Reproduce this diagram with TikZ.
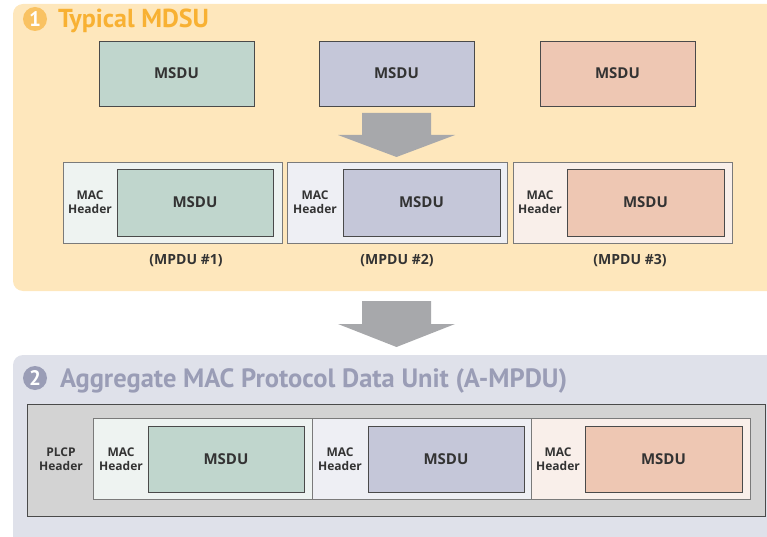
\documentclass[tikz,border=0pt]{standalone}
\usepackage{fontspec}
\setmainfont{PT Sans}
\newfontfamily\lblfont{Open Sans}
\usetikzlibrary{positioning}
\definecolor{panelA}{HTML}{FEE7BC}
\definecolor{panelB}{HTML}{DFE1EA}
\definecolor{titleA}{HTML}{F8B133}
\definecolor{circA}{HTML}{F9C262}
\definecolor{titleB}{HTML}{9A9DB6}
\definecolor{arrowgray}{HTML}{A7A8AB}
\definecolor{msdugreen}{HTML}{C0D6CD}
\definecolor{msdulav}{HTML}{C5C7D9}
\definecolor{msdupeach}{HTML}{EEC7B3}
\definecolor{lightgreen}{HTML}{EEF3F1}
\definecolor{lightlav}{HTML}{EEEFF4}
\definecolor{lightpeach}{HTML}{F9EFEA}
\definecolor{outergray}{HTML}{D3D3D3}
\definecolor{txt}{HTML}{333333}
\definecolor{darkline}{HTML}{4A4A4A}
\definecolor{midline}{HTML}{7A7A7A}
\begin{document}
\begin{tikzpicture}[x=1pt,y=-1pt,
  every node/.style={inner sep=0pt, outer sep=0pt, text=txt},
  msdubox/.style={draw=darkline, line width=0.9pt, font=\lblfont\fontsize{15}{15}\selectfont\bfseries},
  mpdubox/.style={draw=midline, line width=0.9pt},
  hdr/.style={align=center, font=\lblfont\fontsize{12}{14}\selectfont\bfseries},
  mpdulabel/.style={font=\lblfont\fontsize{14}{14}\selectfont\bfseries},
  blockarrow/.style={fill=arrowgray, draw=none},
  numcirc/.style={circle, minimum size=24pt, text=white, font=\fontsize{21}{21}\selectfont\bfseries}
]
\useasboundingbox (0,0) rectangle (767,537);
% panels
\fill[panelA, rounded corners=10pt] (13,4) rectangle (790,291);
\fill[panelB, rounded corners=10pt] (13,355) rectangle (790,560);
% titles
\node[numcirc, fill=circA] (c1) at (35,19) {1};
\node[anchor=base west, text=titleA, font=\fontsize{26}{26}\selectfont\bfseries] (t1) at (58,27.5) {Typical MDSU};
\node[numcirc, fill=titleB] (c2) at (35,378) {2};
\node[anchor=base west, text=titleB, font=\fontsize{26.5}{26.5}\selectfont\bfseries] (t2) at (60,387) {Aggregate MAC Protocol Data Unit (A-MPDU)};
% top MSDUs
\node[msdubox, fill=msdugreen, minimum width=155pt, minimum height=65pt] (s1) at (176.5,73.5) {MSDU};
\node[msdubox, fill=msdulav, minimum width=155pt, minimum height=65pt] (s2) at (396.5,73.5) {MSDU};
\node[msdubox, fill=msdupeach, minimum width=155pt, minimum height=65pt] (s3) at (617.5,73.5) {MSDU};
% arrow 1
\fill[blockarrow] (362,113) -- (431,113) -- (431,135) -- (455,135) -- (396.5,157) -- (338,135) -- (362,135) -- cycle;
% MPDU row
\node[mpdubox, fill=lightgreen, minimum width=219pt, minimum height=81pt] (p1) at (172.5,202.5) {};
\node[mpdubox, fill=lightlav, minimum width=220pt, minimum height=81pt] (p2) at (397,202.5) {};
\node[mpdubox, fill=lightpeach, minimum width=219pt, minimum height=81pt] (p3) at (622.5,202.5) {};
\node[msdubox, fill=msdugreen, minimum width=156pt, minimum height=67pt] (q1) at (195,202.5) {MSDU};
\node[msdubox, fill=msdulav, minimum width=157pt, minimum height=67pt] (q2) at (421.5,202.5) {MSDU};
\node[msdubox, fill=msdupeach, minimum width=157pt, minimum height=67pt] (q3) at (645.5,202.5) {MSDU};
\node[hdr] (h1) at (90,202) {MAC\\Header};
\node[hdr] (h2) at (315,202) {MAC\\Header};
\node[hdr] (h3) at (540,202) {MAC\\Header};
\node[mpdulabel] (l1) at (186,261) {(MPDU \#1)};
\node[mpdulabel] (l2) at (397,261) {(MPDU \#2)};
\node[mpdulabel] (l3) at (630,261) {(MPDU \#3)};
% arrow 2
\fill[blockarrow] (362,301) -- (431,301) -- (431,324) -- (455,324) -- (396.5,347) -- (338,324) -- (362,324) -- cycle;
% A-MPDU
\node[draw=darkline, line width=0.9pt, fill=outergray, minimum width=738pt, minimum height=112pt] (ag) at (396,460.5) {};
\node[mpdubox, fill=lightgreen, minimum width=219pt, minimum height=81pt] (a1) at (202.5,459) {};
\node[mpdubox, fill=lightlav, minimum width=219pt, minimum height=81pt] (a2) at (421.5,459) {};
\node[mpdubox, fill=lightpeach, minimum width=219pt, minimum height=81pt] (a3) at (640.5,459) {};
\node[msdubox, fill=msdugreen, minimum width=156pt, minimum height=66pt] (b1) at (226,459) {MSDU};
\node[msdubox, fill=msdulav, minimum width=156pt, minimum height=66pt] (b2) at (446,459) {MSDU};
\node[msdubox, fill=msdupeach, minimum width=157pt, minimum height=66pt] (b3) at (663.5,459) {MSDU};
\node[hdr] (pl) at (61,459) {PLCP\\Header};
\node[hdr] (g1) at (121,459) {MAC\\Header};
\node[hdr] (g2) at (340,459) {MAC\\Header};
\node[hdr] (g3) at (558,459) {MAC\\Header};
\end{tikzpicture}
\end{document}
